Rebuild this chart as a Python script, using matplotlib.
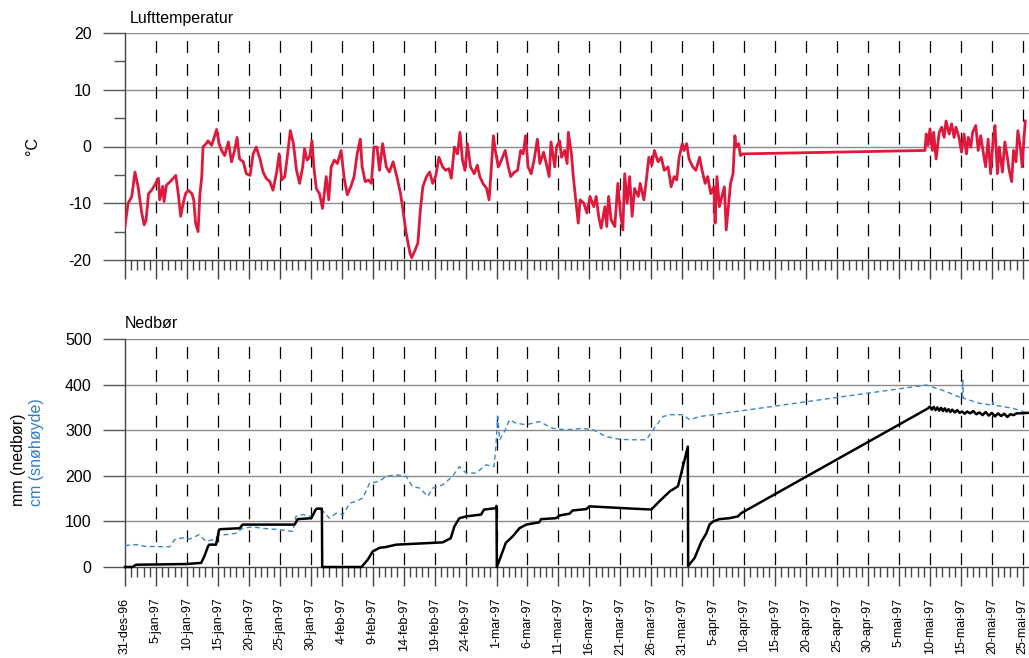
import matplotlib
matplotlib.use('Agg')
import matplotlib.pyplot as plt

plt.rcParams['font.family'] = ['Liberation Sans', 'DejaVu Sans']
plt.rcParams['lines.scale_dashes'] = False
plt.rcParams['axes.unicode_minus'] = False

# days counted from 31-des-96
tick_days = list(range(0, 146, 5))
tick_labels = ['31-des-96', '5-jan-97', '10-jan-97', '15-jan-97', '20-jan-97', '25-jan-97',
               '30-jan-97', '4-feb-97', '9-feb-97', '14-feb-97', '19-feb-97', '24-feb-97',
               '1-mar-97', '6-mar-97', '11-mar-97', '16-mar-97', '21-mar-97', '26-mar-97',
               '31-mar-97', '5-apr-97', '10-apr-97', '15-apr-97', '20-apr-97', '25-apr-97',
               '30-apr-97', '5-mai-97', '10-mai-97', '15-mai-97', '20-mai-97', '25-mai-97']

# air temperature (deg C)
temp_day = [0, 0.5, 1.1, 1.6, 2.1, 2.7, 3.1, 3.4, 3.8, 4.3, 4.8, 5.4, 5.6, 6.1, 6.3, 6.7,
            7.3, 7.8, 8.2, 8.6, 9.0, 9.4, 9.8, 10.2, 10.8, 11.1, 11.4, 11.8, 12.1, 12.4,
            12.6, 13.1, 13.4, 14.0, 14.4, 14.8, 15.2, 15.6, 16.1, 16.7, 17.2, 17.7, 18.1,
            18.5, 19.1, 19.6, 20.2, 20.7, 21.2, 21.8, 22.3, 22.8, 23.4, 23.9, 24.5, 24.9,
            25.3, 25.8, 26.2, 26.7, 27.2, 27.7, 28.2, 28.7, 29.0, 29.4, 29.8, 30.2, 30.5,
            30.9, 31.4, 31.9, 32.5, 32.9, 33.3, 33.8, 34.3, 34.9, 35.4, 35.9, 36.5, 37.0,
            37.5, 38.0, 38.3, 38.8, 39.3, 39.8, 40.2, 40.7, 41.1, 41.6, 42.2, 42.7, 43.3,
            43.9, 44.5, 44.9, 45.4, 46.0, 46.3, 46.8, 47.3, 47.7, 48.1, 48.7, 49.2, 49.7,
            50.2, 50.7, 51.3, 51.8, 52.3, 52.7, 53.2, 53.7, 54.1, 54.5, 54.9, 55.3, 55.8,
            56.4, 56.9, 57.3, 57.8, 58.4, 58.8, 59.1, 59.5, 59.8, 60.3, 60.8, 61.4, 61.9,
            62.3, 62.9, 63.4, 63.9, 64.3, 64.7, 65.1, 65.6, 66.1, 66.6, 67.0, 67.6, 68.1,
            68.5, 68.8, 69.4, 69.7, 70.2, 70.5, 71.0, 71.4, 71.6, 72.1, 72.4, 72.8, 73.2,
            73.5, 74.1, 74.6, 75.1, 75.7, 76.1, 76.5, 76.9, 77.5, 77.8, 78.1, 78.5, 79.1,
            79.6, 80.0, 80.4, 80.7, 81.1, 81.5, 81.9, 82.3, 82.9, 83.2, 83.8, 84.2, 84.6,
            85.1, 85.5, 86.1, 86.6, 87.1, 87.7, 88.2, 88.7, 89.1, 89.5, 90.0, 90.3, 90.7,
            91.1, 91.7, 92.2, 92.8, 93.2, 93.7, 94.1, 94.6, 95.1, 95.3, 95.6, 96.0, 96.4,
            96.8, 97.1, 97.5, 97.8, 98.2, 98.5, 98.7, 99.1, 99.4, 99.8,
            129.2, 129.4, 129.7, 130.0, 130.4, 130.6, 131.0, 131.5, 131.9, 132.3, 132.6,
            133.1, 133.5, 133.9, 134.2, 134.7, 135.1, 135.5, 135.9, 136.2, 136.6, 136.9,
            137.4, 137.8, 138.2, 138.6, 139.0, 139.4, 139.8, 140.2, 140.5, 140.9, 141.2,
            141.7, 142.1, 142.5, 142.8, 143.2, 143.5, 143.9, 144.2, 144.6, 144.9, 145.2, 145.4]
temp_c = [-14.0, -10.0, -8.8, -4.5, -7.0, -11.7, -13.8, -13.0, -8.3, -7.7, -6.8, -5.6, -9.4,
          -7.0, -9.7, -6.8, -6.2, -5.6, -5.1, -8.3, -12.3, -10.0, -8.3, -7.7, -8.3, -9.4,
          -13.5, -15.0, -8.3, -5.3, -0.1, 0.5, 1.0, 0.2, 1.6, 3.0, 0.5, -0.7, -1.6, 0.8,
          -2.7, -0.7, 1.6, -2.2, -2.7, -4.8, -5.1, -1.3, -0.1, -2.2, -4.5, -5.6, -6.2, -7.7,
          -4.5, -1.3, -5.9, -5.3, -1.9, 2.8, 0.5, -4.2, -6.5, -3.6, -0.4, -2.4, -1.9, 1.0,
          -3.6, -7.4, -8.3, -10.9, -5.3, -9.4, -3.6, -2.4, -3.0, -0.7, -5.6, -8.5, -7.0,
          -5.3, -1.3, 1.3, -3.6, -6.2, -5.9, -6.5, -0.1, -0.1, -4.2, 0.5, -3.6, -4.5, -2.7,
          -5.3, -8.3, -11.2, -15.2, -18.7, -19.6, -18.4, -17.0, -11.2, -7.1, -5.3, -4.5,
          -6.5, -5.1, -1.9, -3.6, -4.2, -3.9, -5.6, -0.1, -1.3, 2.5, -2.4, -4.2, 0.5, -3.6,
          -4.8, -3.3, -5.3, -6.5, -7.4, -9.4, -4.8, 1.9, -0.7, -3.6, -2.4, -0.7, -3.6,
          -5.3, -4.5, -4.2, -0.7, -1.3, 1.9, -3.6, -4.8, -2.2, 1.3, -3.0, -1.0, -3.3,
          -5.3, 0.8, -3.6, -0.1, 1.0, -1.9, -0.7, -3.0, 2.5, -1.3, -5.3, -9.4, -13.5,
          -9.4, -10.0, -11.7, -8.8, -10.6, -8.8, -12.3, -14.4, -10.6, -14.1, -8.8, -12.9,
          -14.1, -6.5, -11.7, -14.7, -4.8, -10.0, -5.3, -12.3, -7.4, -8.8, -6.5, -9.4,
          -5.9, -1.9, -3.3, -0.7, -2.7, -1.9, -4.2, -3.6, -7.1, -5.3, -5.9, -1.9, 0.5,
          -0.7, 0.5, -2.2, -3.6, -4.2, -1.9, -4.2, -6.5, -5.3, -8.3, -7.1, -13.5, -5.3,
          -10.6, -8.8, -7.1, -14.7, -10.0, -6.5, -4.8, 1.9, -0.1, 0.5, -1.6, -1.3,
          -0.7, 2.2, 0.2, 3.1, -0.7, 2.5, -2.2, 2.5, 3.4, 1.6, 4.5, 2.2, 4.0, 1.6, 3.4,
          1.6, -1.0, 2.2, -1.3, 1.6, -0.1, 2.5, 3.7, -0.7, 1.9, -1.0, -3.6, 1.3, -4.8,
          1.0, 3.7, -4.8, -0.1, -4.5, 0.8, -1.9, -4.2, -6.2, -0.7, -2.7, 2.8, -0.1, -3.6,
          1.6, 4.5]

# accumulated precipitation (mm)
precip_day = [0, 1.2, 1.8, 9.9, 12.3, 12.8, 13.4, 13.6, 14.7, 15.2, 15.5, 18.5, 19.0, 27.4,
              27.9, 30.1, 30.8, 31.1, 31.8, 31.85, 38.2, 39.2, 40.0, 41.1, 42.2, 43.8, 51.3,
              52.6, 53.2, 54.0, 55.1, 57.5, 58.0, 59.9, 60.0, 60.05, 60.5, 61.5, 62.6, 63.7,
              64.8, 66.9, 67.2, 69.6, 70.2, 71.8, 72.3, 74.5, 75.0, 82.0, 85.0, 86.3, 88.0,
              89.3, 90.1, 90.9, 90.95, 92.0, 93.1, 93.9, 94.4, 95.0, 96.0, 97.6, 99.0, 99.5,
              129.7, 130.0, 130.3, 130.6, 130.9, 131.2, 131.5, 131.8, 132.1, 132.4, 132.7,
              133.0, 133.3, 133.6, 134.0, 134.4, 134.8, 135.2, 135.6, 136.0, 136.5, 137.0,
              137.5, 138.0, 138.5, 139.0, 139.5, 140.0, 140.5, 141.0, 141.5, 142.0, 142.5,
              143.0, 143.5, 144.0, 145.0, 145.8]
precip_mm = [0, 0, 5, 6.5, 9, 23, 45, 49, 49, 82, 83, 85, 93, 93, 105, 107, 126, 128, 128, 0,
             0, 16, 34, 42, 44, 49, 54, 63, 89, 107, 111, 115, 126, 129, 134, 0, 16, 53, 67,
             85, 93, 98, 105, 107, 113, 117, 124, 127, 133, 128, 126, 144, 166, 177, 220, 264,
             2, 20, 56, 74, 93, 100, 105, 107, 111, 118,
             348, 352, 345, 351, 344, 350, 343, 349, 342, 348, 341, 346, 340, 345, 339, 344,
             338, 341, 336, 341, 337, 342, 335, 339, 333, 340, 332, 338, 330, 337, 331, 336,
             329, 335, 333, 337, 337, 338]

# snow depth (cm)
snow_day = [0, 1.8, 3.4, 5.0, 7.2, 8.0, 9.3, 10.4, 12.0, 13.1, 14.2, 15.2, 16.3, 17.9, 19.0,
            20.6, 22.8, 24.9, 27.1, 27.6, 28.7, 30.1, 30.9, 32.0, 33.0, 34.1, 35.2, 36.3, 37.3,
            38.4, 39.5, 41.1, 42.2, 43.8, 45.4, 46.4, 47.6, 48.1, 48.9, 49.7, 51.3, 52.9, 54.0,
            55.1, 56.7, 58.3, 59.6, 59.9, 60.2, 60.5, 61.3, 62.1, 63.2, 64.8, 66.9, 69.1, 71.2,
            73.9, 75.6, 77.7, 79.9, 82.0, 84.2, 85.3, 86.9, 88.0, 90.1, 91.2, 92.8, 95.0,
            129.4, 132.6, 135.2, 135.3, 135.4, 138.0, 140.1, 140.2, 140.3, 143.4, 145.5]
snow_cm = [47, 49, 45, 45, 44, 60, 64, 61, 71, 56, 60, 69, 71, 74, 85, 88, 84, 82, 78, 111,
           115, 111, 129, 122, 107, 118, 115, 140, 144, 151, 184, 188, 199, 202, 199, 177, 173,
           166, 155, 173, 180, 199, 220, 206, 206, 224, 220, 264, 330, 279, 297, 323, 315, 312,
           319, 304, 301, 304, 301, 286, 280, 279, 279, 301, 330, 334, 334, 323, 330, 334,
           399, 385, 370, 410, 370, 359, 355, 362, 355, 348, 339]

W, H = 1029, 658
fig = plt.figure(figsize=(W / 100, H / 100), dpi=100)
ax1 = fig.add_axes([125 / W, 1 - 260 / H, 1 - 125 / W, 227 / H])
ax2 = fig.add_axes([125 / W, 1 - 567 / H, 1 - 125 / W, 228 / H])


def style_axis(ax, ymin, ymax, ystep, yminor):
    ax.set_xlim(0, 146)
    ax.set_ylim(ymin, ymax)
    ax.set_yticks(range(ymin, ymax + 1, ystep))
    if yminor:
        ax.set_yticks(yminor, minor=True)
    ax.set_xticks(tick_days)
    ax.set_xticks(range(0, 146), minor=True)
    for s in ['top', 'right']:
        ax.spines[s].set_visible(False)
    for s in ['left', 'bottom']:
        ax.spines[s].set_color('#444444')
        ax.spines[s].set_linewidth(1)
    for y in range(ymin + ystep, ymax + 1, ystep):
        ax.axhline(y, color='#8c8c8c', lw=1, zorder=1)
    for d in tick_days[1:]:
        ax.axvline(d, ymin=1, ymax=0, color='black', lw=0.9,
                   linestyle=(11.1, (8.6, 7.9)), zorder=1)
    ax.tick_params(axis='y', which='major', length=16, width=1, color='#555555',
                   pad=8, labelsize=11.5)
    ax.tick_params(axis='y', which='minor', length=8, width=1, color='#555555')
    ax.tick_params(axis='x', which='major', length=14, width=1, color='#444444',
                   pad=8, labelsize=9)
    ax.tick_params(axis='x', which='minor', length=7, width=1, color='#444444')


# Lufttemperatur
style_axis(ax1, -20, 20, 10, [-15, -5, 5, 15])
ax1.tick_params(axis='x', labelbottom=False)
ax1.plot(temp_day, temp_c, color='#e0183c', lw=2.0, zorder=3)

# Nedbør / snøhøyde
style_axis(ax2, 0, 500, 100, None)
ax2.set_xticklabels(tick_labels, rotation=90)
ax2.plot(snow_day, snow_cm, color='#3a86c8', lw=1.0, linestyle=(0, (3.5, 2.5)), zorder=3)
ax2.plot(precip_day, precip_mm, color='black', lw=1.8, zorder=4, clip_on=False)

fig.text(130 / W, 1 - 18 / H, 'Lufttemperatur', fontsize=11.5, va='center')
fig.text(125 / W, 1 - 323 / H, 'Nedbør', fontsize=11.5, va='center')
fig.text(33 / W, 1 - 146 / H, '°C', fontsize=11.5, rotation=90, va='center', ha='center')
fig.text(19 / W, 1 - 506 / H, 'mm (nedbør)', fontsize=11.5, rotation=90,
         rotation_mode='anchor', ha='left', va='center')
fig.text(36 / W, 1 - 506 / H, 'cm (snøhøyde)', fontsize=11.5, rotation=90,
         rotation_mode='anchor', ha='left', va='center', color='#2f7fc4')

plt.savefig('out.png', dpi=100)
